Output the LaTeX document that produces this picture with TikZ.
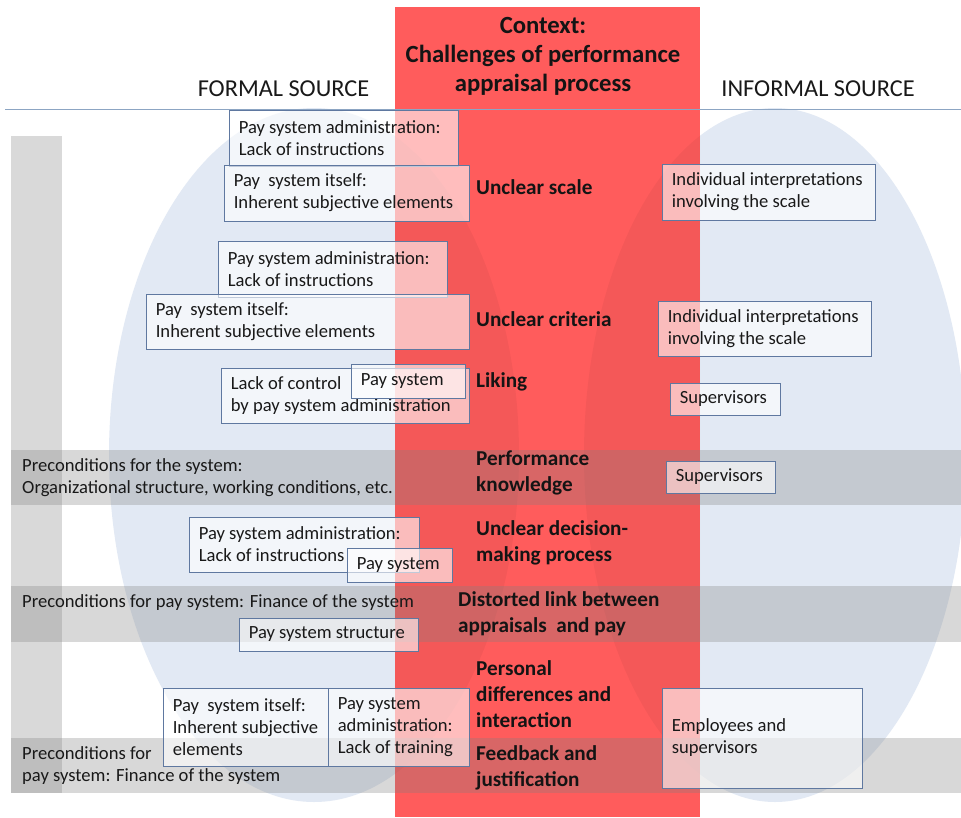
\documentclass[tikz,border=0pt]{standalone}
\usepackage{fontspec}
\setmainfont{Carlito}
\definecolor{redc}{RGB}{255,92,92}
\definecolor{bluec}{RGB}{226,233,244}
\definecolor{barc}{RGB}{217,217,217}
\definecolor{bandc}{RGB}{128,128,128}
\definecolor{boxc}{RGB}{95,120,160}
\definecolor{linec}{RGB}{140,165,195}
\newcommand\boxfont{\fontsize{18.6}{22}\selectfont}
\newcommand\labfont{\fontsize{21.2}{26}\selectfont\bfseries}
\newcommand\headfont{\fontsize{24.7}{29}\selectfont\bfseries}
\newcommand\srcfont{\fontsize{24.3}{29}\selectfont}
\newcommand\mybox[6]{%
  \pgfmathsetmacro\mybw{#4-#2}\pgfmathsetmacro\mybh{#5-#3}%
  \node[boxn, minimum width=\mybw pt, minimum height=\mybh pt] (#1) at ({(#2+#4)/2},{(#3+#5)/2}) {};
  \node[txt, anchor=west] (#1t) at ([xshift=10pt]#1.west) {#6};}
\begin{document}
\begin{tikzpicture}[x=1pt,y=-1pt,
  boxn/.style={draw=boxc, line width=0.8pt, fill=white, fill opacity=0.6, inner sep=0pt},
  txt/.style={font=\boxfont, align=left, inner sep=0pt, text=black!90},
  lab/.style={font=\labfont, align=left, inner sep=0pt, anchor=west, text=black!92},
  band/.style={fill=bandc, fill opacity=0.3}]
\useasboundingbox (0,0) rectangle (961,817);
\fill[white] (0,0) rectangle (961,817);
% ellipses
\fill[bluec] (314,455) ellipse [x radius=205pt, y radius=347pt];
\fill[bluec] (775,455) ellipse [x radius=191pt, y radius=347pt];
% left bar
\fill[barc] (11,136) rectangle (62,793);
% red column
\fill[redc] (395,7) rectangle (700,817);
\begin{scope}
\clip (395,7) rectangle (700,817);
\fill[black, opacity=0.045] (314,455) ellipse [x radius=205pt, y radius=347pt];
\fill[black, opacity=0.045] (775,455) ellipse [x radius=191pt, y radius=347pt];
\end{scope}
% bands
\fill[band] (11,450) rectangle (961,505);
\fill[band] (11,586) rectangle (961,642);
\fill[band] (11,738) rectangle (961,793);
% top line
\draw[linec, line width=0.8pt] (5,109) -- (961,109);
% headings
\node[font=\headfont, align=center, inner sep=0pt, text=black!92] (ctx) at (543,56) {Context:\\Challenges of performance\\appraisal process};
\node[font=\srcfont, inner sep=0pt, text=black!90] (formal) at (283.5,89) {FORMAL SOURCE};
\node[font=\srcfont, inner sep=0pt, text=black!90] (informal) at (818,89) {INFORMAL SOURCE};
% boxes
\mybox{a1}{229}{110}{458}{166}{Pay system administration:\\Lack of instructions}
\mybox{a2}{224}{165}{469}{221}{Pay~ system itself:\\Inherent subjective elements}
\mybox{b1}{218}{241}{447}{297}{Pay system administration:\\Lack of instructions}
\mybox{b2}{146}{294}{469}{349}{Pay~ system itself:\\Inherent subjective elements}
\mybox{c1}{221}{368}{469}{423}{Lack of control\\by pay system administration}
\mybox{c2}{351}{364}{465}{398}{Pay system}
\mybox{e1}{189}{517}{419}{572}{Pay system administration:\\Lack of instructions}
\mybox{e2}{347}{548}{452}{582}{Pay system}
\mybox{f2}{239}{618}{418}{651}{Pay system structure}
\mybox{g1}{163}{688}{328}{766}{Pay~ system itself:\\Inherent subjective\\elements}
\mybox{g2}{328}{688}{469}{766}{Pay system\\administration:\\Lack of training}
\mybox{r1}{662}{164}{875}{220}{Individual interpretations\\involving the scale}
\mybox{r2}{658}{301}{871}{356}{Individual interpretations\\involving the scale}
\mybox{r3}{670}{383}{780}{415}{Supervisors}
\mybox{r4}{666}{461}{775}{493}{Supervisors}
\mybox{r5}{662}{688}{862}{788}{Employees and\\supervisors}
% band texts
\node[txt, anchor=west] (d1) at (22,478) {Preconditions for the system:\\Organizational structure, working conditions, etc.};
\node[txt, anchor=west] (f1) at (22,603) {Preconditions for pay system: Finance of the system};
\node[txt, anchor=west] (h1) at (22,766) {Preconditions for\\pay system: Finance of the system};
% center labels
\node[lab] (l1) at (476,187) {Unclear scale};
\node[lab] (l2) at (476,319) {Unclear criteria};
\node[lab] (l3) at (476,382) {Liking};
\node[lab] (l4) at (476,473) {Performance\\knowledge};
\node[lab] (l5) at (476,543) {Unclear decision-\\making process};
\node[lab] (l6) at (458,614) {Distorted link between\\appraisals~ and pay};
\node[lab] (l7) at (476,694) {Personal\\differences and\\interaction};
\node[lab] (l8) at (476,768) {Feedback and\\justification};
\end{tikzpicture}
\end{document}
